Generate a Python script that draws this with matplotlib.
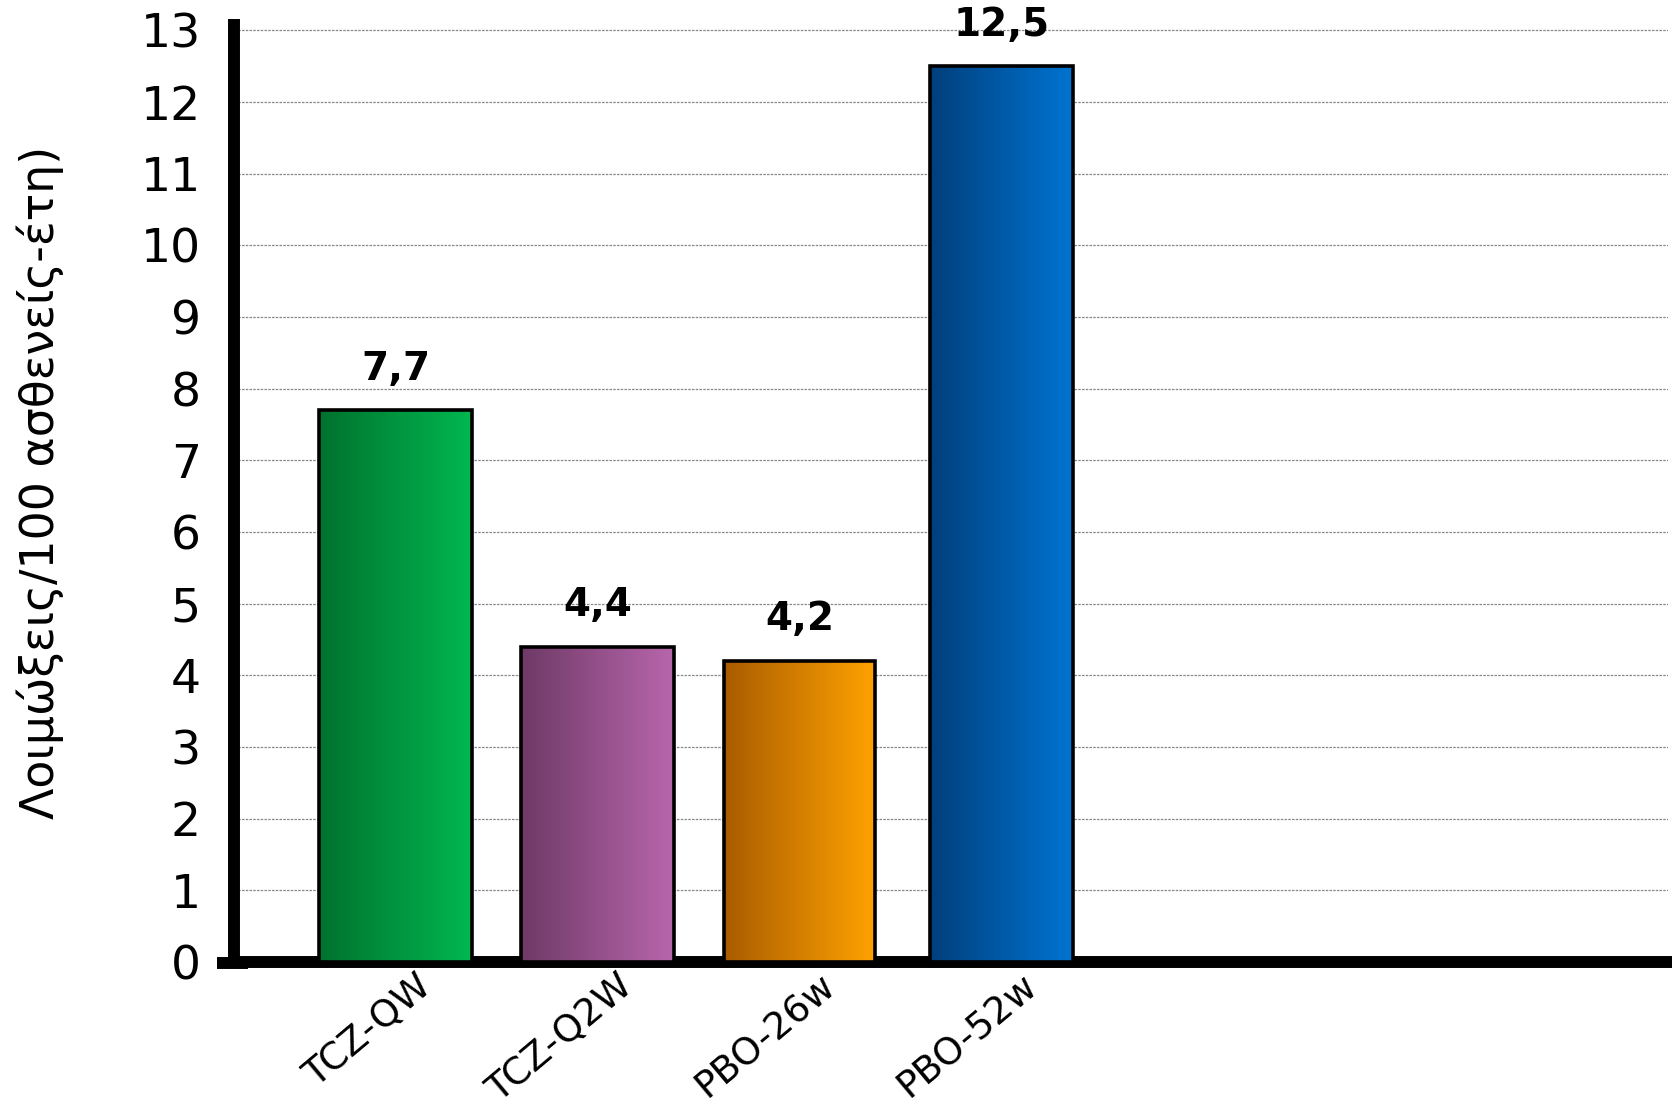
import matplotlib.pyplot as plt
import numpy as np
from matplotlib.colors import LinearSegmentedColormap
from matplotlib.transforms import blended_transform_factory, offset_copy

plt.rcParams['font.family'] = ['DejaVu Sans']

groups = ['TCZ-QW', 'TCZ-Q2W', 'PBO-26w', 'PBO-52w']
rates = [7.7, 4.4, 4.2, 12.5]
yticks = list(range(0, 14))
ylabel = 'Λοιμώξεις/100 ασθενείς-έτη)'

# dark -> light horizontal shading for each bar
shades = [('#00722e', '#00b850'),
          ('#6e3a66', '#b866ac'),
          ('#a95c00', '#ffa200'),
          ('#003f7c', '#0074d2')]
widths = [0.76, 0.76, 0.75, 0.71]

fig = plt.figure(figsize=(16.72, 11.11), dpi=100)
ax = fig.add_axes([0.14, 0.1341, 0.8576, 0.843])

x = np.arange(len(groups))
bars = ax.bar(x, rates, width=widths, facecolor='none', edgecolor='black',
              linewidth=2.6, zorder=4)

# fill each bar with a gradient clipped to the bar rectangle
grad = np.linspace(0, 1, 256).reshape(1, -1)
for b, (c0, c1) in zip(bars, shades):
    cmap = LinearSegmentedColormap.from_list('shade', [c0, c1])
    x0, w, h = b.get_x(), b.get_width(), b.get_height()
    im = ax.imshow(grad, cmap=cmap, aspect='auto', extent=[x0, x0 + w, 0, h],
                   zorder=3)
    im.set_clip_path(b)

for xi, v in zip(x, rates):
    ax.annotate(f'{v:.1f}'.replace('.', ','), (xi, v), xytext=(0, 30),
                textcoords='offset points', ha='center', va='center',
                fontsize=28, fontweight='bold', zorder=5)

ax.set_xlim(-0.8, 6.3)
ax.set_ylim(0, 13.07)
ax.set_yticks(yticks)
ax.set_yticklabels([str(t) for t in yticks], fontsize=34)
ax.set_xticks(x)
ax.set_xticklabels([])
ax.tick_params(axis='y', length=0, pad=24)
ax.tick_params(axis='x', length=0)

# slanted category names, their upper end a little right of the bar centre
base = blended_transform_factory(ax.transData, ax.transAxes)
lbl_tr = offset_copy(base, fig=fig, x=14, y=-4, units='points')
for xi, name in zip(x, groups):
    ax.text(xi, 0, name, transform=lbl_tr, rotation=40, ha='right', va='top',
            rotation_mode='anchor', fontsize=27)

ax.yaxis.grid(True, color='#888888', linestyle=(0, (2, 1)), linewidth=0.9)
ax.set_axisbelow(True)

for side in ['top', 'right']:
    ax.spines[side].set_visible(False)
for side in ['left', 'bottom']:
    ax.spines[side].set_linewidth(8.6)
    ax.spines[side].set_capstyle('projecting')

# small stub of the base line left of the vertical axis
ax.plot([-0.012, 0.01], [-0.001, -0.001], transform=ax.transAxes,
        color='black', linewidth=8.6, clip_on=False, solid_capstyle='butt')

fig.text(0.024, 0.566, ylabel, rotation=90, ha='center', va='center',
         fontsize=33)

fig.savefig('out.png', dpi=100)
